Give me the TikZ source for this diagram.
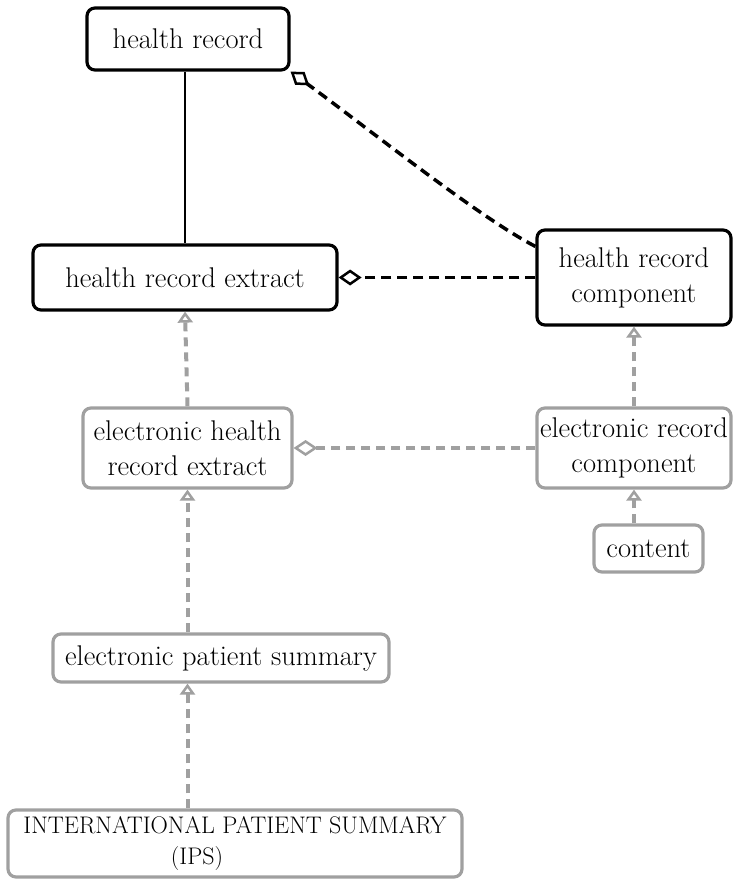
\documentclass[tikz,border=0pt]{standalone}
\usepackage{fontspec}
\setmainfont{Latin Modern Roman}
\usetikzlibrary{arrows.meta}
\definecolor{boxgray}{RGB}{160,160,160}
\begin{document}
\begin{tikzpicture}[x=1pt,y=-1pt,
  every node/.style={font=\fontsize{28.5}{35}\selectfont, inner sep=0pt, align=center},
  blackbox/.style={draw=black, line width=3.2pt, rounded corners=8pt},
  graybox/.style={draw=boxgray, line width=3.2pt, rounded corners=8pt},
  aggblack/.style={draw=black, line width=3.5pt, dash pattern=on 10pt off 6pt,
     -{Diamond[open,length=23pt,width=16pt,line width=2.5pt]}},
  agggray/.style={draw=boxgray, line width=4pt, dash pattern=on 9pt off 6pt,
     -{Diamond[open,length=24pt,width=16pt,line width=2.5pt]}},
  realize/.style={draw=boxgray, line width=4pt, dash pattern=on 9pt off 6pt,
     -{Triangle[open,length=11pt,width=15pt,line width=2.5pt]}}
]
\useasboundingbox (0,0) rectangle (732,879);

\node[blackbox, minimum width=202pt, minimum height=62pt] (hr) at (188,39) {health record};
\node[blackbox, minimum width=304pt, minimum height=65pt] (hre) at (185,277.5) {health record extract};
\node[blackbox, minimum width=194pt, minimum height=95pt] (hrc) at (634,277.5) {health record\\component};
\node[graybox, minimum width=209pt, minimum height=80pt] (ehre) at (187.5,448) {electronic health\\record extract};
\node[graybox, minimum width=194pt, minimum height=80pt] (erc) at (634,448) {electronic record\\component};
\node[graybox, minimum width=109pt, minimum height=47pt] (content) at (648.5,548.5) {content};
\node[graybox, minimum width=336pt, minimum height=48pt] (eps) at (221,658) {electronic patient summary};
\node[graybox, minimum width=454pt, minimum height=67pt, font=\fontsize{24}{31}\selectfont] (ips) at (235,843.5) {INTERNATIONAL PATIENT SUMMARY\\(IPS)\hspace*{76pt}};

\draw[line width=2pt] (hr.south -| hre.north) -- (hre.north);
\draw[aggblack] ([yshift=-18pt]hrc.north west) .. controls (480,218) and (370,130) .. (hr.south east);
\draw[aggblack] (hrc.west) -- (hre.east);
\draw[realize] (ehre.north) -- (hre.south);
\draw[realize] (erc.north) -- (hrc.south);
\draw[agggray] (erc.west) -- (ehre.east);
\draw[realize] (content.north -| erc.south) -- (erc.south);
\draw[realize] (eps.north -| ehre.south) -- (ehre.south);
\draw[realize] (ips.north -| ehre.south) -- (eps.south -| ehre.south);
\end{tikzpicture}
\end{document}
